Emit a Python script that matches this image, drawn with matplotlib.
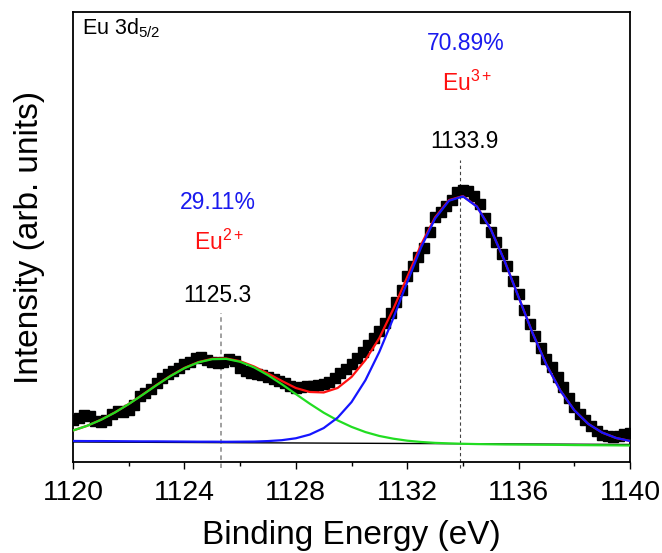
import numpy as np
import matplotlib
matplotlib.use('Agg')
import matplotlib.pyplot as plt
from matplotlib.ticker import MultipleLocator

plt.rcParams['font.family'] = ['Liberation Sans', 'DejaVu Sans']
plt.rcParams['mathtext.fontset'] = 'custom'
plt.rcParams['mathtext.rm'] = 'Liberation Sans'
plt.rcParams['mathtext.it'] = 'Liberation Sans'

# measured spectrum (0.2 eV step)
energy = np.round(np.arange(1120, 1140.01, 0.2), 1)
counts = [42, 44, 47, 46, 41, 40, 42, 48, 51, 50,
          52, 57, 66, 69, 73, 79, 84, 88, 91, 94,
          98, 100, 104, 105, 102, 100, 99, 100, 103, 101,
          94, 91, 89, 88, 87, 85, 83, 81, 79, 76,
          74, 75, 76, 76, 77, 78, 80, 84, 89, 93,
          98, 104, 110, 117, 124, 131, 139, 149, 160, 172,
          186, 196, 205, 214, 230, 245, 250, 256, 262, 270,
          272, 271, 266, 258, 244, 230, 220, 208, 196, 181,
          168, 152, 138, 126, 114, 103, 95, 85, 75, 64,
          55, 48, 42, 36, 31, 27, 26, 25, 26, 28, 29]

# fitted curves (0.5 eV step)
fit_e = np.arange(1120, 1140.01, 0.5)
eu2_fit = [31.5, 36.1, 42.1, 49.4, 57.9, 67.2, 76.8, 85.9, 93.8, 99.6,
           102.8, 103.1, 100.2, 94.6, 86.8, 77.7, 67.9, 58.3, 49.3, 41.6,
           35.1, 29.9, 26.0, 23.3, 21.3, 20.0, 19.1, 18.6, 18.2, 17.9,
           17.7, 17.5, 17.4, 17.3, 17.2, 17.1, 16.9, 16.8, 16.7, 16.6, 16.5]
eu3_fit = [21.0, 20.9, 20.9, 20.8, 20.7, 20.6, 20.6, 20.5, 20.4, 20.3,
           20.3, 20.2, 20.3, 20.4, 20.9, 21.8, 23.7, 27.4, 33.9, 44.3,
           59.9, 81.8, 110.2, 143.8, 179.9, 214.7, 243.4, 261.3, 265.6, 255.4,
           232.7, 200.8, 164.8, 129.0, 97.2, 71.3, 51.7, 38.1, 29.4, 24.0, 21.0]
sum_fit = [31.5, 36.1, 42.2, 49.5, 58.0, 67.4, 77.1, 86.2, 94.1, 99.9,
           103.2, 103.5, 100.8, 95.5, 88.5, 81.0, 74.0, 70.0, 69.5, 74.0,
           85.0, 102.0, 124.0, 153.0, 185.0, 217.5, 244.6, 261.9, 265.9, 255.6,
           232.8, 200.8, 164.8, 129.0, 97.2, 71.3, 51.7, 38.1, 29.4, 24.0, 21.0]
base_e = [1120, 1140]
base_y = [20.0, 17.5]

peaks = [1125.3, 1133.9]
percents = ['29.11%', '70.89%']
states = ['Eu$^{2+}$', 'Eu$^{3+}$']

fig = plt.figure(figsize=(6.62, 5.53), dpi=100)
ax = fig.add_axes([0.1103, 0.1646, 0.8414, 0.8137])

ax.plot(energy, counts, 's', color='black', ms=7, mec='black', zorder=2)
ax.plot(base_e, base_y, color='black', lw=1.0, zorder=3)
ax.plot(fit_e, sum_fit, color='#ff1010', lw=1.6, zorder=4)
ax.plot(fit_e, eu2_fit, color='#22dd22', lw=1.6, zorder=5)
ax.plot(fit_e, eu3_fit, color='#1515ff', lw=1.6, zorder=6)

ax.plot([peaks[0], peaks[0]], [-6, 149], ls=(0, (2.5, 2)), color='#999999',
        lw=1.3, clip_on=False, zorder=1)
ax.plot([peaks[1], peaks[1]], [-6, 302], ls=(0, (3, 2.5)), color='#444444',
        lw=0.8, clip_on=False, zorder=1)

ax.text(peaks[0] - 0.1, 259, percents[0], color='#1a1aee', fontsize=16.5,
        ha='center', va='center')
ax.text(peaks[0] - 0.05, 220, states[0], color='#ff1010', fontsize=16.5,
        ha='center', va='center')
ax.text(peaks[0] - 0.1, 166, '%.1f' % peaks[0], color='black', fontsize=16.5,
        ha='center', va='center')
ax.text(peaks[1] + 0.2, 418, percents[1], color='#1a1aee', fontsize=16.5,
        ha='center', va='center')
ax.text(peaks[1] + 0.25, 379, states[1], color='#ff1010', fontsize=16.5,
        ha='center', va='center')
ax.text(peaks[1] + 0.15, 320, '%.1f' % peaks[1], color='black', fontsize=16.5,
        ha='center', va='center')
ax.text(1120.32, 434, 'Eu 3d$_{5/2}$', color='black', fontsize=15.5,
        ha='left', va='center')

ax.set_xlim(1120, 1140)
ax.set_ylim(0, 450)
ax.xaxis.set_major_locator(MultipleLocator(4))
ax.xaxis.set_minor_locator(MultipleLocator(2))
ax.tick_params(axis='x', which='major', direction='out', length=5, width=1,
               labelsize=20.5, pad=8)
ax.tick_params(axis='x', which='minor', direction='out', length=3, width=1)
ax.set_yticks([])
for s in ax.spines.values():
    s.set_linewidth(1.3)

ax.set_xlabel('Binding Energy (eV)', fontsize=24, labelpad=10)
ax.set_ylabel('Intensity (arb. units)', fontsize=24, labelpad=20)

fig.savefig('out.png', dpi=100)
